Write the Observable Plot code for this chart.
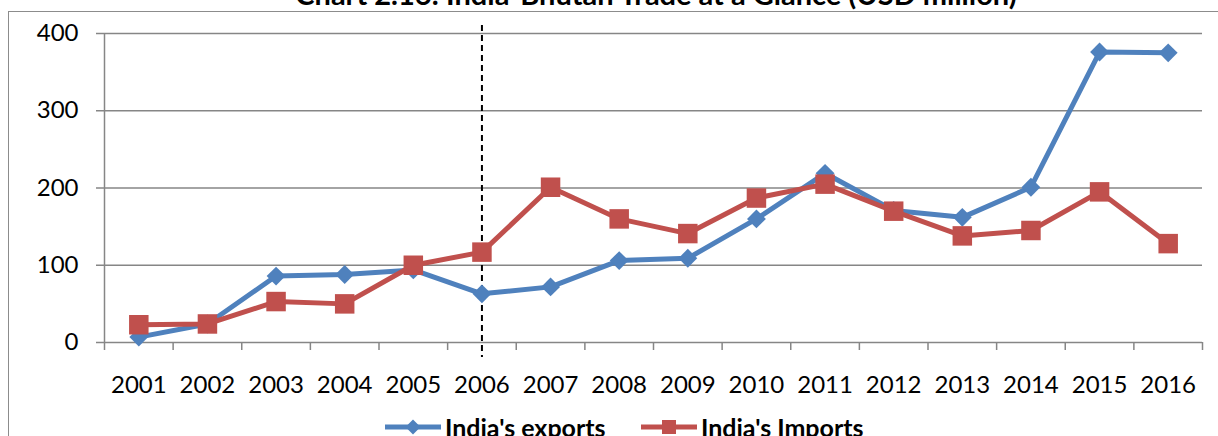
<!DOCTYPE html>
<html>
<head>
<meta charset="utf-8">
<script src="https://cdn.jsdelivr.net/npm/d3@7"></script>
<script src="https://cdn.jsdelivr.net/npm/@observablehq/plot@0.6"></script>
<style>
  html, body { margin: 0; padding: 0; background: #fff; overflow: hidden; }
  #wrap { position: relative; width: 1218px; height: 436px; font-family: Lato, "Open Sans", sans-serif; }
  #frame { position: absolute; left: 8px; top: 11px; width: 1220px; height: 440px; border-left: 1.5px solid #8c8c8c; border-top: 1.5px solid #8c8c8c; }
  #chart { position: absolute; left: 0; top: 0; }
  #title { position: absolute; left: 0; width: 1312px; top: -23px; text-align: center; font-weight: bold; font-size: 29px; line-height: 34px; color: #000; white-space: nowrap; }
  #legend { position: absolute; top: 412px; left: 0; width: 1218px; height: 30px; }
  #legend .item { position: absolute; top: 0; display: flex; align-items: center; font-weight: bold; font-size: 25px; line-height: 30px; color: #000; }
  #legend svg { display: block; }
</style>
</head>
<body>
<div id="wrap">
  <div id="frame"></div>
  <div id="chart"></div>
  <div id="title">Chart 2.16: India-Bhutan Trade at a Glance (USD million)</div>
  <div id="legend"></div>
</div>
<script>
const years = [2001, 2002, 2003, 2004, 2005, 2006, 2007, 2008, 2009, 2010, 2011, 2012, 2013, 2014, 2015, 2016];
const exportsUSD = [7, 24, 86, 88, 94, 63, 72, 106, 109, 160, 219, 171, 162, 201, 376, 375];
const importsUSD = [23, 24, 53, 50, 100, 117, 201, 160, 141, 187, 205, 170, 138, 145, 195, 128];
const yTicks = [0, 100, 200, 300, 400];
const markerYear = 2006;
const seriesNames = ["India's exports", "India's Imports"];
const colors = ["#4F81BD", "#C0504D"];

const boundaries = years.map(y => y - 0.5).concat([years[years.length - 1] + 0.5]);
const exp = years.map((y, i) => ({year: y, value: exportsUSD[i]}));
const imp = years.map((y, i) => ({year: y, value: importsUSD[i]}));
const x0 = years[0] - 0.5, x1 = years[years.length - 1] + 0.5;

const chart = Plot.plot({
  width: 1218,
  height: 436,
  marginLeft: 104,
  marginRight: 16,
  marginTop: 33,
  marginBottom: 94,
  style: {fontFamily: "Lato, 'Open Sans', sans-serif", fontSize: "24px", color: "#000", background: "transparent", overflow: "visible"},
  x: {type: "linear", domain: [x0, x1], axis: null},
  y: {domain: [0, 400], axis: null},
  marks: [
    Plot.ruleY(yTicks, {x1: x0, x2: x1, insetLeft: -8, stroke: "#868686", strokeWidth: 1.5}),
    Plot.ruleX([x0], {y1: 0, y2: 400, stroke: "#868686", strokeWidth: 1.5}),
    Plot.ruleX(boundaries, {y1: 0, y2: 0, insetBottom: -8, stroke: "#868686", strokeWidth: 1.5}),
    Plot.text(yTicks, {x: x0, y: d => d, text: d => String(d), textAnchor: "end", dx: -26, fill: "#000", fontSize: 24}),
    Plot.text(years, {x: d => d, y: 0, text: d => String(d), dy: 43, fill: "#000", fontSize: 24}),
    Plot.ruleX([markerYear], {insetTop: -8, insetBottom: -15, stroke: "#000", strokeWidth: 2, strokeDasharray: "6,4"}),
    Plot.line(exp, {x: "year", y: "value", stroke: colors[0], strokeWidth: 5}),
    Plot.line(imp, {x: "year", y: "value", stroke: colors[1], strokeWidth: 5}),
    Plot.dot(exp, {x: "year", y: "value", symbol: "diamond2", r: 8.5, fill: colors[0], stroke: "none"}),
    Plot.dot(imp, {x: "year", y: "value", symbol: "square", r: 11, fill: colors[1], stroke: "none"})
  ]
});
document.getElementById("chart").appendChild(chart);

// Legend
const legend = document.getElementById("legend");
const items = [
  {name: seriesNames[0], color: colors[0], shape: "diamond", left: 385},
  {name: seriesNames[1], color: colors[1], shape: "square", left: 641}
];
for (const it of items) {
  const div = document.createElement("div");
  div.className = "item";
  div.style.left = it.left + "px";
  const ns = "http://www.w3.org/2000/svg";
  const svg = document.createElementNS(ns, "svg");
  svg.setAttribute("width", 58); svg.setAttribute("height", 30);
  const ln = document.createElementNS(ns, "line");
  ln.setAttribute("x1", 0); ln.setAttribute("x2", 56); ln.setAttribute("y1", 15); ln.setAttribute("y2", 15);
  ln.setAttribute("stroke", it.color); ln.setAttribute("stroke-width", 5);
  svg.appendChild(ln);
  const sh = document.createElementNS(ns, "path");
  if (it.shape === "diamond") sh.setAttribute("d", "M28,7.5L35.5,15L28,22.5L20.5,15Z");
  else sh.setAttribute("d", "M21,8H35V22H21Z");
  sh.setAttribute("fill", it.color);
  svg.appendChild(sh);
  div.appendChild(svg);
  const sp = document.createElement("span");
  sp.textContent = it.name;
  sp.style.marginLeft = "2px";
  div.appendChild(sp);
  legend.appendChild(div);
}
</script>
</body>
</html>
